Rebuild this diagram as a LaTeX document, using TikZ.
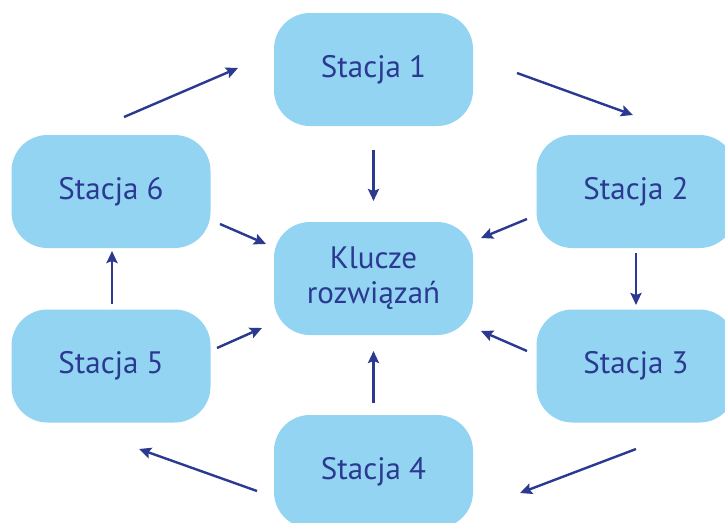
\documentclass[tikz,border=0pt]{standalone}
\usepackage{fontspec}
\setmainfont{PT Sans}
\usetikzlibrary{arrows.meta}

\definecolor{boxblue}{HTML}{92D4F2}
\definecolor{navy}{HTML}{2B3990}

\begin{document}
\begin{tikzpicture}[x=1pt,y=-1pt]

        \clip (0,0) rectangle (725,522);
        \useasboundingbox (0,0) rectangle (725,522);

        \begin{scope}[every node/.style={fill=boxblue, rounded corners=36pt,
            minimum width=199pt, minimum height=113pt, text=navy,
            font=\fontsize{31}{35}\selectfont, align=center, inner sep=0pt}]
          \node (s1) at (373.5,69.5)  {Stacja 1};
          \node (s2) at (636,191.5)   {Stacja 2};
          \node (s3) at (636,366)     {Stacja 3};
          \node (s4) at (373.5,471.5) {Stacja 4};
          \node (s5) at (111,366)     {Stacja 5};
          \node (s6) at (111,191.5)   {Stacja 6};
          \node (k)  at (373.5,278.5) {Klucze\\rozwiązań};
        \end{scope}

        % arrow ends
        \coordinate (a61) at (124,117);   \coordinate (b61) at (238,68);
        \coordinate (a12) at (517,73);    \coordinate (b12) at (633,115);
        \coordinate (a23) at (636,253);   \coordinate (b23) at (636,305);
        \coordinate (a34) at (636,449);   \coordinate (b34) at (520,493);
        \coordinate (a45) at (257,491);   \coordinate (b45) at (139,449);
        \coordinate (a56) at (112,304);   \coordinate (b56) at (112,251);
        \coordinate (a1k) at (373.5,150); \coordinate (b1k) at (373.5,201);
        \coordinate (a2k) at (527,219);   \coordinate (b2k) at (481,238);
        \coordinate (a3k) at (527,351);   \coordinate (b3k) at (481,331);
        \coordinate (a4k) at (373.5,403); \coordinate (b4k) at (373.5,351);
        \coordinate (a5k) at (217,348);   \coordinate (b5k) at (262,328);
        \coordinate (a6k) at (220,224);   \coordinate (b6k) at (266,244);

        \begin{scope}[every edge/.style={draw=navy, line width=2.4pt,
            -{Stealth[length=12pt,width=11pt,inset=2pt]}}]
          \path (a61) edge (b61);
          \path (a12) edge (b12);
          \path (a23) edge (b23);
          \path (a34) edge (b34);
          \path (a45) edge (b45);
          \path (a56) edge (b56);
          \path (a1k) edge (b1k);
          \path (a2k) edge (b2k);
          \path (a3k) edge (b3k);
          \path (a4k) edge (b4k);
          \path (a5k) edge (b5k);
          \path (a6k) edge (b6k);
        \end{scope}

      \end{tikzpicture}
\end{document}
